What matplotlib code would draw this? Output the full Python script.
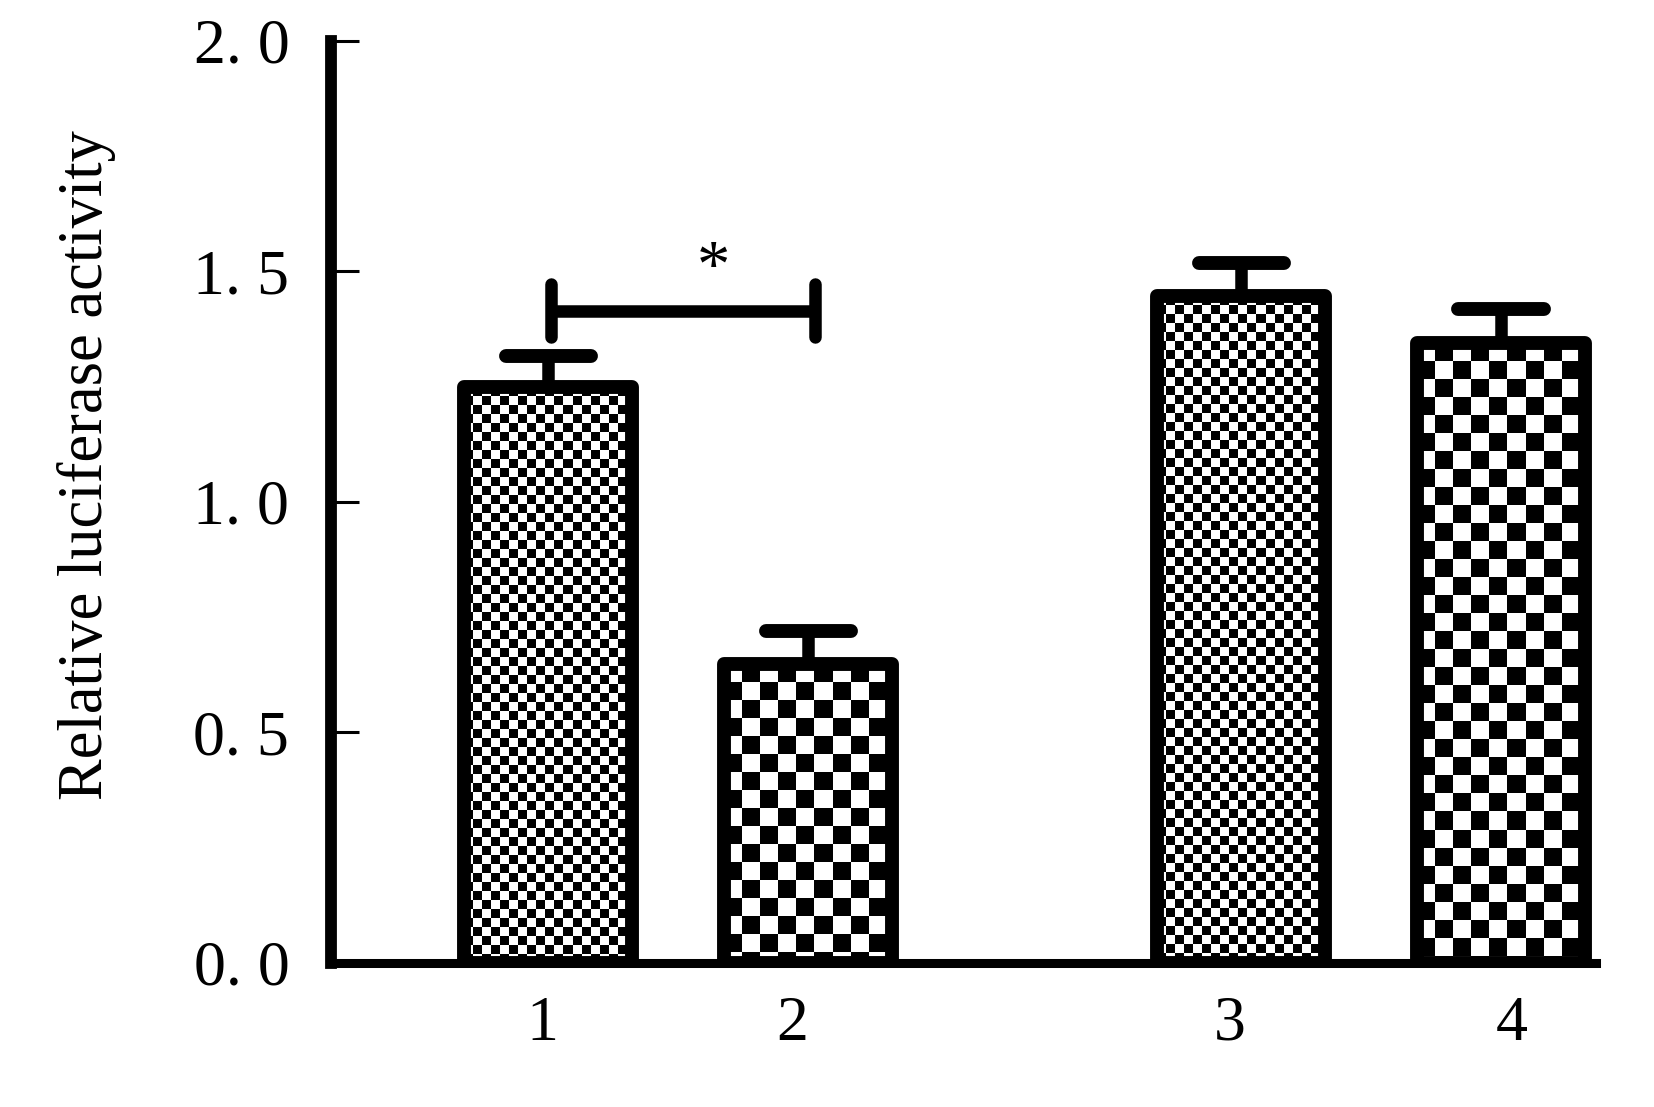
import numpy as np
import matplotlib
matplotlib.use("Agg")
import matplotlib.pyplot as plt

# dados
grupos = ["1", "2", "3", "4"]
atividade = [1.249, 0.648, 1.447, 1.344]
erro = [0.068, 0.072, 0.072, 0.074]
padrao = ["fino", "grosso", "fino", "grosso"]
yticks = [0.0, 0.5, 1.0, 1.5, 2.0]
ytick_labels = ["0. 0", "0. 5", "1. 0", "1. 5", "2. 0"]

# layout (posicoes das barras no eixo x)
posicoes = [1, 2, 3.665, 4.665]
# os rotulos no original nao ficam bem centrados nas barras
posicoes_rotulos = [0.975, 1.937, 3.621, 4.707]
largura = 0.647
celula_px = {"fino": 9, "grosso": 18}

plt.rcParams["font.family"] = ["Liberation Serif", "DejaVu Serif"]

fig = plt.figure(figsize=(16.54, 11.07), dpi=100)
ax = fig.add_axes([0.2001, 0.1305, 0.7648, 0.8325])
ax.set_xlim(0.1635, 5.03)
ax.set_ylim(0, 2.0)

# pixels por unidade de dado (pra montar o xadrez com tamanho fixo)
px_x = 0.7648 * 1654 / (5.03 - 0.1635)
px_y = 0.8325 * 1107 / 2.0

barras = ax.bar(posicoes, atividade, width=largura, facecolor="none",
                edgecolor="black", linewidth=10, joinstyle="round", zorder=3)

# preenchimento xadrez, recortado pelo retangulo de cada barra
for barra, tipo in zip(barras, padrao):
    dx = celula_px[tipo] / px_x
    dy = celula_px[tipo] / px_y
    x0 = barra.get_x()
    w = barra.get_width()
    h = barra.get_height()
    nx = int(np.ceil(w / dx)) + 1
    ny = int(np.ceil(h / dy)) + 1
    ii, jj = np.indices((ny, nx))
    xadrez = (ii + jj) % 2
    # comeca de cima pra baixo
    topo = h
    im = ax.imshow(xadrez, cmap="gray_r", vmin=0, vmax=1, origin="upper",
                   extent=(x0, x0 + nx * dx, topo - ny * dy, topo),
                   interpolation="nearest", aspect="auto", zorder=2)
    im.set_clip_path(barra)

ax.set_xlim(0.1635, 5.03)
ax.set_ylim(0, 2.0)

# barras de erro so pra cima
topos = [a + e for a, e in zip(atividade, erro)]
ax.vlines(posicoes, atividade, topos, colors="black", linewidth=9, zorder=4)
ax.hlines(topos, [p - 0.164 for p in posicoes], [p + 0.164 for p in posicoes],
          colors="black", linewidth=10, capstyle="round", zorder=4)

# colchete de significancia entre 1 e 2
ax.plot([1.01, 2.025], [1.414, 1.414], color="black", linewidth=9,
        solid_capstyle="butt", zorder=4)
for xb in (1.01, 2.025):
    ax.plot([xb, xb], [1.358, 1.473], color="black", linewidth=9,
            solid_capstyle="round", zorder=4)
ax.text(1.633, 1.505, "*", ha="center", va="center", fontsize=48)

# eixos
for lado in ("top", "right"):
    ax.spines[lado].set_visible(False)
ax.spines["left"].set_linewidth(8.5)
ax.spines["bottom"].set_linewidth(6.5)
ax.spines["left"].set_bounds(0, 2.0)

ax.set_yticks(yticks)
ax.set_yticklabels(ytick_labels)
ax.tick_params(axis="y", direction="in", length=20, width=2.2, pad=30,
               labelsize=46)
ax.set_xticks(posicoes_rotulos)
ax.set_xticklabels(grupos)
ax.tick_params(axis="x", length=0, pad=24, labelsize=46)

ax.set_ylabel("Relative luciferase activity", fontsize=45, va="center")
ax.yaxis.set_label_coords(-0.193, 0.54)

fig.savefig("out.png", dpi=100)
